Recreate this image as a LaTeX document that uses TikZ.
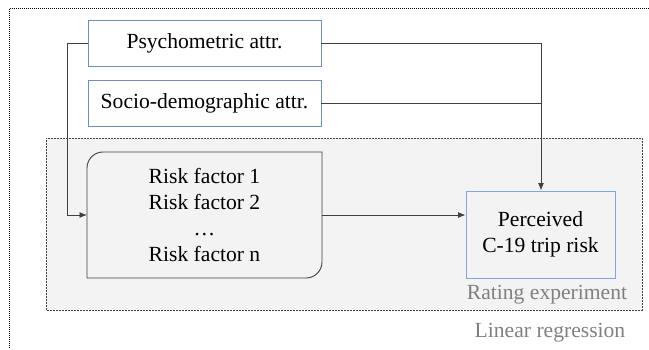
\documentclass[tikz,border=0pt]{standalone}
\usepackage{fontspec}
\setmainfont{Liberation Serif}
\usetikzlibrary{arrows.meta}
\definecolor{boxblue}{HTML}{6C8EBF}
\definecolor{lightblue}{HTML}{7EA6E0}
\definecolor{linegray}{HTML}{404040}
\definecolor{bggray}{HTML}{F3F3F3}
\definecolor{labelgray}{HTML}{808080}
\begin{document}
\begin{tikzpicture}[x=1pt,y=1pt,
  every node/.style={font=\fontsize{21.6}{26}\selectfont, inner sep=0pt},
  attrbox/.style={draw=boxblue, line width=0.9pt, fill=white, minimum width=233pt, minimum height=46pt},
  conn/.style={draw=linegray, line width=0.9pt},
  arr/.style={conn, -{Latex[length=7.5pt,width=6pt]}},
  grouplabel/.style={text=labelgray}]
\useasboundingbox (0,0) rectangle (649,349);
% outer dotted frame
\draw[line width=1pt, dash pattern=on 1pt off 1pt] (649,340) -- (9,340) -- (9,0);
% rating experiment group
\draw[fill=bggray, draw=linegray, line width=0.7pt, dash pattern=on 2pt off 1pt] (46,39) rectangle (642,211);
% risk factor box
\draw[fill=bggray, draw=linegray, line width=0.9pt]
  (87,71) -- (87,181) arc[start angle=180, end angle=90, radius=16] -- (322,197) -- (322,87)
  arc[start angle=0, end angle=-90, radius=16] -- cycle;
\node[align=center] (risk) at (204.5,134) {Risk factor 1\\Risk factor 2\\\dots\\Risk factor n};
\coordinate (riskW) at (87,134);
\coordinate (riskE) at (322,134);
% attribute boxes
\node[attrbox] (psy) at (204.5,306) {Psychometric attr.};
\node[attrbox] (soc) at (204.5,246) {Socio-demographic attr.};
% perceived risk
\node[draw=lightblue, line width=0.9pt, fill=bggray, minimum width=149pt, minimum height=87pt, align=center] (per) at (540.5,114.5) {Perceived\\C-19 trip risk};
% labels
\node[grouplabel] (rate) at (547,54) {Rating experiment};
\node[grouplabel] (lin) at (550,16) {Linear regression};
% connectors
\coordinate (joint) at (541,306);
\draw[arr] (psy.east) -- (joint) -- (joint |- per.north);
\draw[conn] (soc.east) -- (soc.east -| joint);
\draw[arr] (psy.west) -- (67,306) -- (67,134) -- (riskW);
\draw[arr] (riskE) -- (riskE -| per.west);
\end{tikzpicture}
\end{document}
